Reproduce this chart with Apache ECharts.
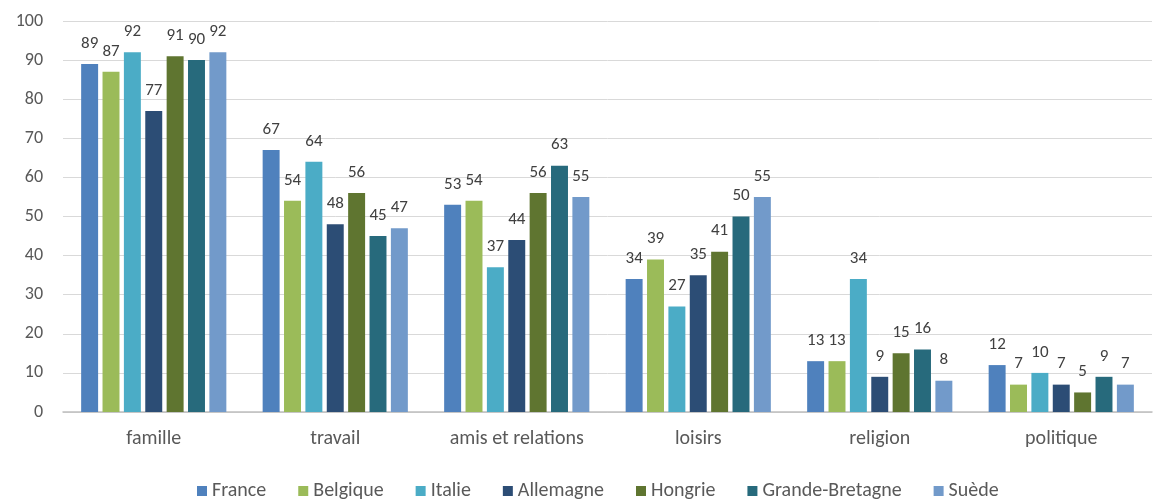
<!DOCTYPE html>
<html>
<head>
<meta charset="utf-8">
<script src="https://cdn.jsdelivr.net/npm/echarts@6/dist/echarts.min.js"></script>
<style>
  html, body { margin: 0; padding: 0; background: #fff; }
  #chart { width: 1159px; height: 501px; }
</style>
</head>
<body>
<div id="chart"></div>
<script>
// Domains of life rated important, by country (%)
const categories = ['famille', 'travail', 'amis et relations', 'loisirs', 'religion', 'politique'];
const countries = ['France', 'Belgique', 'Italie', 'Allemagne', 'Hongrie', 'Grande-Bretagne', 'Suède'];
const france         = [89, 67, 53, 34, 13, 12];
const belgique       = [87, 54, 54, 39, 13, 7];
const italie         = [92, 64, 37, 27, 34, 10];
const allemagne      = [77, 48, 44, 35, 9, 7];
const hongrie        = [91, 56, 56, 41, 15, 5];
const grandeBretagne = [90, 45, 63, 50, 16, 9];
const suede          = [92, 47, 55, 55, 8, 7];
const yTicks = [0, 10, 20, 30, 40, 50, 60, 70, 80, 90, 100];

const seriesValues = [france, belgique, italie, allemagne, hongrie, grandeBretagne, suede];
const colors = ['#4F81BD', '#9BBB59', '#4BACC6', '#2C4D75', '#5F7530', '#276A7C', '#729ACA'];
const fontFamily = 'Carlito, Lato, "Open Sans", sans-serif';

const chart = echarts.init(document.getElementById('chart'));
chart.setOption({
  animation: false,
  color: colors,
  textStyle: { fontFamily: fontFamily, color: '#595959' },
  grid: { left: 63, right: 7, top: 21, bottom: 89, containLabel: false },
  legend: {
    data: countries,
    top: 476,
    left: 192,
    itemWidth: 10,
    itemHeight: 10,
    itemGap: 32,
    icon: 'rect',
    textStyle: { fontSize: 20, color: '#595959', fontFamily: fontFamily }
  },
  xAxis: {
    type: 'category',
    data: categories,
    axisLine: { lineStyle: { color: '#BFBFBF', width: 1.5 } },
    axisTick: { show: false },
    axisLabel: { fontSize: 20, color: '#595959', margin: 17, fontFamily: fontFamily }
  },
  yAxis: {
    type: 'value',
    min: yTicks[0],
    max: yTicks[yTicks.length - 1],
    interval: 10,
    axisLine: { show: false },
    axisTick: { show: false },
    axisLabel: { fontSize: 18, color: '#595959', margin: 20, fontFamily: fontFamily },
    splitLine: { lineStyle: { color: '#D9D9D9', width: 1 } }
  },
  series: countries.map((name, i) => ({
    name: name,
    type: 'bar',
    data: seriesValues[i],
    barGap: '26%',
    barCategoryGap: '20%',
    label: {
      show: true,
      position: 'top',
      distance: 12,
      fontSize: 17,
      color: '#404040',
      fontFamily: fontFamily
    }
  }))
});
</script>
</body>
</html>
